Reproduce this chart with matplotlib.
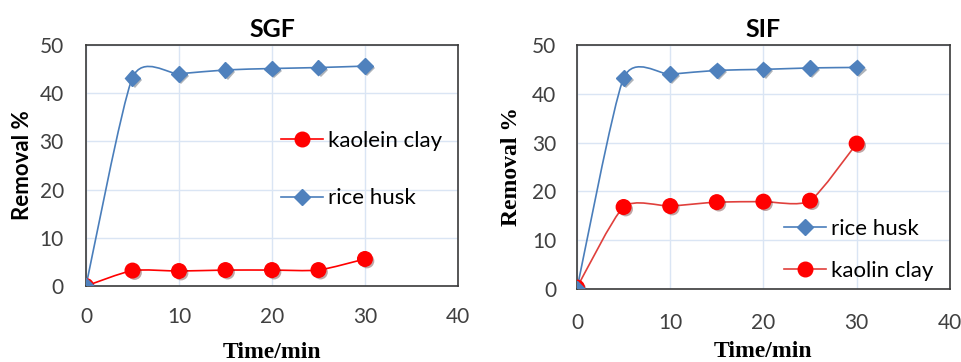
import numpy as np
import matplotlib
matplotlib.use("Agg")
import matplotlib.pyplot as plt
from matplotlib.path import Path
from matplotlib.patches import PathPatch
from matplotlib.lines import Line2D
import matplotlib.patheffects as pe

time_min = [0, 5, 10, 15, 20, 25, 30]

sgf_rice = [0, 43.2, 44.0, 44.8, 45.1, 45.3, 45.6]
sgf_kaolin = [0, 3.2, 3.1, 3.3, 3.3, 3.3, 5.6]

sif_rice = [0, 43.2, 44.0, 44.8, 45.0, 45.3, 45.4]
sif_kaolin = [0.3, 16.8, 17.0, 17.8, 17.9, 18.1, 29.8]

BLUE_LINE = "#4a7ebb"
BLUE_MK = "#4f81bd"
RED = "#ff0000"
RED_LINE = "#e0403c"
GRID = "#dae5f4"
SANS = "Lato"
SERIF = "Liberation Serif"


def smooth_path(x, y, f=0.11):
    # excel-like smoothed line: cubic bezier through the points
    x = np.asarray(x, float)
    y = np.asarray(y, float)
    n = len(x)
    verts = [(x[0], y[0])]
    codes = [Path.MOVETO]
    for i in range(n - 1):
        i0 = max(i - 1, 0)
        i3 = min(i + 2, n - 1)
        c1 = (x[i] + (x[i + 1] - x[i0]) * f, y[i] + (y[i + 1] - y[i0]) * f)
        c2 = (x[i + 1] - (x[i3] - x[i]) * f, y[i + 1] - (y[i3] - y[i]) * f)
        verts += [c1, c2, (x[i + 1], y[i + 1])]
        codes += [Path.CURVE4] * 3
    return Path(verts, codes)


def draw_series(ax, x, y, lcolor, mcolor, marker, ms):
    ax.add_patch(PathPatch(smooth_path(x, y), facecolor="none",
                           edgecolor=lcolor, lw=1.2, zorder=3))
    ax.plot(x, y, linestyle="none", marker=marker, ms=ms, color=mcolor,
            markeredgecolor=mcolor, zorder=4,
            path_effects=[pe.SimplePatchShadow(offset=(1.5, -1.5), alpha=0.35),
                          pe.Normal()])


def style_axes(ax, ypad, xpad):
    ax.set_xlim(0, 40)
    ax.set_ylim(0, 50)
    ax.set_xticks([0, 10, 20, 30, 40])
    ax.set_yticks([0, 10, 20, 30, 40, 50])
    ax.grid(True, color=GRID, lw=1.0)
    ax.set_axisbelow(True)
    for s in ax.spines.values():
        s.set_color("#3a3a3a")
        s.set_linewidth(1.2)
    ax.tick_params(length=0, labelsize=15, colors="#404040")
    ax.tick_params(axis="y", pad=ypad)
    ax.tick_params(axis="x", pad=xpad)
    for lab in ax.get_xticklabels() + ax.get_yticklabels():
        lab.set_family(SANS)


fig = plt.figure(figsize=(9.61, 3.62), dpi=100)
ax1 = fig.add_axes([0.0895, 0.210, 0.387, 0.666])
ax2 = fig.add_axes([0.6004, 0.2017, 0.388, 0.674])

leg_kw = dict(loc="upper left", frameon=False, handlelength=1.9,
              handletextpad=0.2, borderpad=0, borderaxespad=0,
              prop={"family": SANS, "size": 16})

# SGF
style_axes(ax1, 16, 15)
draw_series(ax1, time_min, sgf_kaolin, RED, RED, "o", 10.5)
draw_series(ax1, time_min, sgf_rice, BLUE_LINE, BLUE_MK, "D", 8)
ax1.set_title("SGF", fontsize=18, fontweight="bold", family=SANS, pad=6)
ax1.set_ylabel("Removal %", fontsize=16, fontweight="bold", family=SANS, labelpad=5)
ax1.set_xlabel("Time/min", fontsize=17, fontweight="bold", family=SERIF, labelpad=11)
h1 = [Line2D([], [], color=RED, marker="o", ms=10.5, lw=1.2),
      Line2D([], [], color=BLUE_LINE, marker="D", ms=8, mfc=BLUE_MK, mec=BLUE_MK, lw=1.2)]
ax1.legend(h1, ["kaolein clay", "rice husk"], bbox_to_anchor=(0.524, 0.644),
           labelspacing=1.7, **leg_kw)

# SIF
style_axes(ax2, 15, 17)
draw_series(ax2, time_min, sif_kaolin, RED_LINE, RED, "o", 10.5)
draw_series(ax2, time_min, sif_rice, BLUE_LINE, BLUE_MK, "D", 8)
ax2.set_title("SIF", fontsize=18, fontweight="bold", family=SANS, pad=6)
ax2.set_ylabel("Removal %", fontsize=17, fontweight="bold", family=SERIF, labelpad=7)
ax2.set_xlabel("Time/min", fontsize=17, fontweight="bold", family=SERIF, labelpad=6)
h2 = [Line2D([], [], color=BLUE_LINE, marker="D", ms=8, mfc=BLUE_MK, mec=BLUE_MK, lw=1.2),
      Line2D([], [], color=RED_LINE, marker="o", ms=10.5, mfc=RED, mec=RED, lw=1.2)]
ax2.legend(h2, ["rice husk", "kaolin clay"], bbox_to_anchor=(0.555, 0.287),
           labelspacing=1.0, **leg_kw)

fig.savefig("out.png", dpi=100)
